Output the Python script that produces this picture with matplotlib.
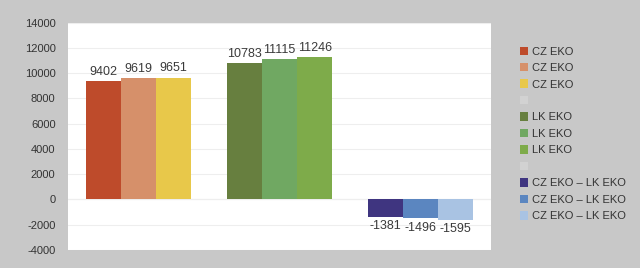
import matplotlib.pyplot as plt
import numpy as np
from matplotlib.patches import Patch

groups = ["CZ EKO", "LK EKO", "CZ EKO \u2013 LK EKO"]
values = [
    [9402, 9619, 9651],
    [10783, 11115, 11246],
    [-1381, -1496, -1595],
]
colors = [
    ["#BE4B2B", "#D6906A", "#E8C84A"],
    ["#677F3F", "#70A862", "#7EAB4A"],
    ["#3F3580", "#5B86C0", "#A9C3E3"],
]
yticks = list(range(-4000, 14001, 2000))

plt.rcParams['font.family'] = ['Liberation Sans', 'DejaVu Sans']
bg = "#C8C8C8"

fig = plt.figure(figsize=(6.4, 2.68), dpi=100, facecolor=bg)
ax = fig.add_axes([68 / 640, 1 - 250 / 268, 423 / 640, (250 - 22.7) / 268])
ax.set_facecolor("white")

width = 0.25
for g, (vals, cols) in enumerate(zip(values, colors)):
    for i, (v, c) in enumerate(zip(vals, cols)):
        x = g + (i - 1) * width
        ax.bar(x, v, width=width, color=c, zorder=2)
        if v >= 0:
            ax.text(x, v + 250, str(v), ha='center', va='bottom', fontsize=9, color="#3a3a3a")
        else:
            ax.text(x, v - 250, str(v), ha='center', va='top', fontsize=9, color="#3a3a3a")

ax.set_xlim(-0.5, 2.5)
ax.set_ylim(-4000, 14000)
ax.set_yticks(yticks)
ax.set_yticklabels([str(t) for t in yticks], fontsize=8, color="#333333")
ax.set_xticks([])
ax.tick_params(axis='y', length=0, pad=9)
ax.grid(axis='y', color="#EEEEEE", linewidth=0.8, zorder=0)
ax.axhline(0, color="#E6E6E6", linewidth=0.8, zorder=1)
for s in ax.spines.values():
    s.set_visible(False)

handles = []
labels = []
for g, cols in enumerate(colors):
    for c in cols:
        handles.append(Patch(facecolor=c, edgecolor='none'))
        labels.append(groups[g])
    if g < len(colors) - 1:
        handles.append(Patch(facecolor="#D2D2D2", edgecolor='none'))
        labels.append("")

leg = fig.legend(handles, labels, loc='upper left', bbox_to_anchor=(514 / 640, 1 - 41 / 268),
                 frameon=False, fontsize=8, handlelength=0.8, handleheight=0.8,
                 handletextpad=0.3, labelspacing=0.57, borderpad=0)
for t in leg.get_texts():
    t.set_color("#333333")

fig.savefig("out.png", dpi=100, facecolor=bg)
